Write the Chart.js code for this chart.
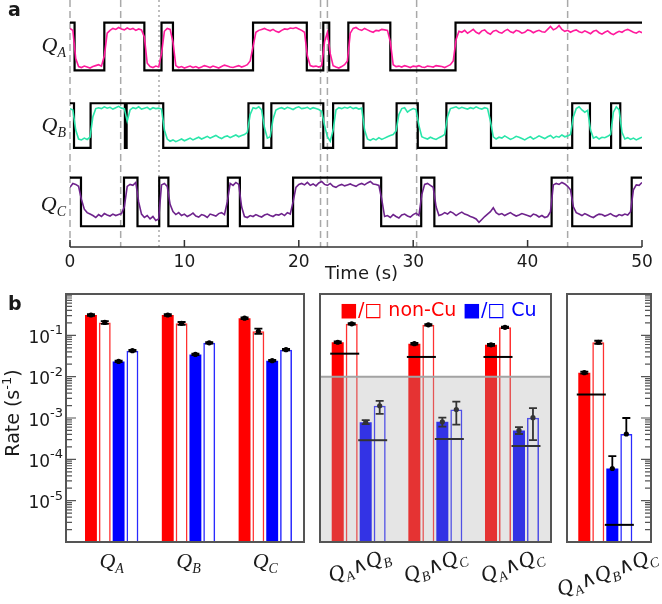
<!DOCTYPE html>
<html>
<head>
<meta charset="utf-8">
<script src="https://cdn.jsdelivr.net/npm/chart.js@4.4.0/dist/chart.umd.min.js"></script>
<style>
  body { margin: 0; background: #fff; }
  #wrap { position: relative; width: 662px; height: 604px; overflow: hidden;
          font-family: "DejaVu Sans", sans-serif; color: #1a1a1a; }
  canvas { position: absolute; }
  .txt { position: absolute; white-space: nowrap; }
  .q { font-family: "Liberation Serif", "DejaVu Serif", serif; font-style: italic;
       font-size: 22px; line-height: 22px; }
  .q sub { font-size: 14px; vertical-align: -5px; line-height: 0; }
  .and { font-family: "DejaVu Serif", serif; font-style: normal; font-size: 21px; }
  .pl { font-weight: bold; font-size: 19px; line-height: 19px; }
  .leg { font-size: 19px; line-height: 19px; }
</style>
</head>
<body>
<div id="wrap">
  <canvas id="traces" width="662" height="290" style="left:0;top:0"></canvas>
  <canvas id="single" width="310" height="260" style="left:0;top:290px"></canvas>
  <canvas id="pairs" width="242" height="260" style="left:315px;top:290px"></canvas>
  <canvas id="triple" width="102" height="260" style="left:560px;top:290px"></canvas>

  <div class="txt pl" style="left:8px;top:0">a</div>
  <div class="txt pl" style="left:8px;top:294px">b</div>
  <div class="txt q" style="right:596px;top:34px">Q<sub>A</sub></div>
  <div class="txt q" style="right:596px;top:114px">Q<sub>B</sub></div>
  <div class="txt q" style="right:596px;top:193px">Q<sub>C</sub></div>
  <div class="txt" style="left:11px;top:413px;font-size:19px;transform:translate(-50%,-50%) rotate(-90deg)">Rate (s<sup style="font-size:13px">-1</sup>)</div>
  <div class="txt leg" style="left:340px;top:300px;color:#ff0000">■/□ non-Cu</div>
  <div class="txt leg" style="left:463px;top:300px;color:#0000ff">■/□ Cu</div>
</div>
<script>
// ---- panel a : telegraph traces ----
var dt = 0.25;
var traceA = [88,84,25,8, 6,9,7,5,8,10,12,9, 30,
  78,84,88,86,90,87,85,89,86,88,84,87,85, 70, 15,8,6,9,7, 35, 82,88,86, 60,
  10,6,8,5,7,9,6,8,5,7,10,8,6,9,7,5,8,11,9,7,6,8,10,7,9,12,20, 50,
  80,84,86,88,85,83,86,82,80,84,87,86,89,88,90,87,84,80, 30, 10,8,9,7,10,
  60,80,35, 10,7,5,8,12, 20,78,88, 90,86,84,88,85,82,80,84,83,86,85,84, 60, 12,
  8,9,7,10,8,6,9,8,10,7,6,9,8,7,10,9,8,6,9,12,20, 65, 82,
  80,84,78,82,86,80,77,83,85,79,76,82,84,80,78,83,86,81,79,84,82,78,80,85,83,79,82,84,81,80,
  86,92,85,88,94,86,82,84,80,83,85,81,79,83,80,77,82,84,79,76,
  80,83,78,75,79,82,80,84,86,83,80,78,82,79];
var traceB = [88,85, 40,20,18,22,19,24, 70,88,90,88,92,89,91,87,90,93,89,88, 60,
  85,90,88,92,87,89,91,86,90,88,89, 87, 40,20,
  15,18,14,17,20,16,19,22,18,21,24,20,23,26,22,25,28,24,21,25,27,23,26,29,25,28,30, 35,
  75,90,88,92,85, 45,22,25, 65,85,
  88,90,87,91,89,86,90,92,88,89,91,87,90,88,86,82, 50,25,15, 40,85,
  90,88,91,89,92,88,90,87, 89, 40, 20,17,21,18,23,19,22,25,28,30, 38,
  75,88,90,80,85,88,86, 50, 25,22,20,24,21,19,23,26, 30, 70,88,
  90,92,88,91,89,87,90,88,92,89,87,90,88, 60,25,
  20,24,22,27,23,19,22,26,24,21,18,22,25,20,23,27,24,21,25,28,22,26,24,29,25,27, 30,
  70,88,92,85,80,84, 40, 22,25,20,24,23,26, 30, 80,92,85, 35, 20,23,19,22,18,21,24];
var traceC = [80,88,86,82, 55,35, 28,25,22,18,24,20,26,23,21,25,22,24,26,
  40,82,86,84,90, 50,25, 18,22,15,20,12, 15, 85,88,82, 45,30,
  24,28,22,25,20,23,27,21,19,24,22,18,25,23,21,26,28,24, 50, 88,84,90,86, 40,20,
  18,22,20,24,21,19,23,25,22,20,24,23,26,22,28, 25, 50,80,
  86,88,85,90,84,87,83,89,92,86,84,88,82,80,84,86,83,85,87,84,82,86,88,85,89,92,87,86, 84,
  55,20, 22,18,24,20,17,23,25,21,19,24,27,22, 65,86,88,84,80, 40,22,
  24,28,25,30,27,22,26,29,25,23,20,18,15,8,14,20,25,30,38,28,
  24,26,22,25,28,24,21,23,26,24,22,20,25,23,19,22,18,20,
  30,85,88,86,90,87,82,75, 40,28, 25,22,26,23,20,18,22,25,24,21,23,26,22,20,24,22,25,23, 30,
  75,85,84,90];
// switch times (s); every trace starts in the upper state
var switchA = [0.4, 3.0, 6.5, 8.0, 9.0, 16.0, 20.7, 22.14, 22.66, 24.33, 28.0, 33.7];
var switchB = [0.35, 1.8, 4.8, 4.95, 8.15, 15.6, 16.9, 17.6, 22.14, 23.0, 25.65, 28.55,
  30.4, 32.9, 36.8, 43.9, 45.45, 47.3, 48.1];
var switchC = [0.96, 4.72, 5.9, 7.8, 8.6, 13.8, 14.85, 19.5, 27.2, 30.7, 31.85, 42.1, 43.9, 49.1];
var markTimes = [0, 4.43, 21.9, 22.5, 30.3, 43.5];
var dotTimes = [7.78];
var timeTicks = [0, 10, 20, 30, 40, 50];
var tEnd = 50;

// ---- panel b : rates (s^-1) ----
var singleLabels = ['A', 'B', 'C'];
var sNonCuFill = [0.31, 0.31, 0.26];
var sNonCuOpen = [0.205, 0.195, 0.125];
var sCuFill = [0.0234, 0.0346, 0.0244];
var sCuOpen = [0.0426, 0.066, 0.045];
var sNonCuFillErr = [[0.295, 0.325], [0.295, 0.325], [0.248, 0.272]];
var sNonCuOpenErr = [[0.19, 0.22], [0.18, 0.21], [0.108, 0.145]];
var sCuFillErr = [[0.0225, 0.0243], [0.0334, 0.0358], [0.0235, 0.0253]];
var sCuOpenErr = [[0.041, 0.0443], [0.0635, 0.0685], [0.0435, 0.0467]];

var pairLabels = [['A', 'B'], ['B', 'C'], ['A', 'C']];
var pNonCuFill = [0.068, 0.063, 0.059];
var pNonCuOpen = [0.19, 0.18, 0.156];
var pCuFill = [7.9e-4, 8.1e-4, 5.0e-4];
var pCuOpen = [1.97e-3, 1.6e-3, 1.02e-3];
var pNonCuFillErr = [[0.065, 0.071], [0.060, 0.066], [0.056, 0.062]];
var pNonCuOpenErr = [[0.183, 0.197], [0.173, 0.187], [0.150, 0.162]];
var pCuFillErr = [[7.1e-4, 8.9e-4], [6.2e-4, 1.02e-3], [4.1e-4, 6.0e-4]];
var pCuOpenErr = [[1.26e-3, 2.6e-3], [6.9e-4, 2.5e-3], [2.9e-4, 1.73e-3]];
var pNonCuExpect = [0.036, 0.030, 0.030];
var pCuExpect = [2.9e-4, 3.1e-4, 2.1e-4];

var tNonCuFill = [0.0125];
var tNonCuOpen = [0.068];
var tCuFill = [6.0e-5];
var tCuOpen = [4.1e-4];
var tNonCuFillErr = [[0.0118, 0.0132]];
var tNonCuOpenErr = [[0.062, 0.074]];
var tCuFillErr = [[6.0e-5, 1.2e-4]];
var tCuOpenErr = [[4.1e-4, 1.0e-3]];
var tNonCuExpect = [3.7e-3];
var tCuExpect = [2.6e-6];

var rateMin = 1e-6, rateMax = 1;
var rateLabelExp = [-1, -2, -3, -4, -5];
var shadeLimit = 1e-2;

Chart.defaults.font.family = '"DejaVu Sans", sans-serif';
Chart.defaults.plugins.legend.display = false;
Chart.defaults.plugins.tooltip.enabled = false;

// lane positions in chart units (y axis 0..100)
var lanes = [{ low: 71.5, high: 90.8 }, { low: 40.1, high: 58.2 }, { low: 8.4, high: 28.1 }];

function tracePoints(vals, lane) {
  return vals.map(function (v, i) {
    return { x: i * dt, y: lane.low + v / 100 * (lane.high - lane.low) };
  });
}
function squarePoints(sw, lane) {
  var hi = true;
  var pts = [{ x: 0, y: lane.high }];
  sw.forEach(function (t) {
    hi = !hi;
    pts.push({ x: t, y: hi ? lane.high : lane.low });
  });
  pts.push({ x: tEnd, y: hi ? lane.high : lane.low });
  return pts;
}

var timeDecor = {
  id: 'timeDecor',
  beforeDatasetsDraw: function (chart) {
    var ctx = chart.ctx, a = chart.chartArea, x = chart.scales.x;
    ctx.save();
    ctx.strokeStyle = '#a9a9a9';
    ctx.lineWidth = 1.5;
    markTimes.concat(dotTimes).forEach(function (t) {
      var px = x.getPixelForValue(t);
      ctx.setLineDash(dotTimes.indexOf(t) >= 0 ? [2, 3] : [7, 4]);
      ctx.beginPath();
      ctx.moveTo(px, a.top);
      ctx.lineTo(px, a.bottom);
      ctx.stroke();
    });
    ctx.restore();
  },
  afterDatasetsDraw: function (chart) {
    var ctx = chart.ctx, a = chart.chartArea, x = chart.scales.x;
    ctx.save();
    ctx.strokeStyle = '#333';
    ctx.lineWidth = 1.5;
    ctx.beginPath();
    ctx.moveTo(a.left, a.bottom);
    ctx.lineTo(a.right, a.bottom);
    timeTicks.forEach(function (t) {
      var px = x.getPixelForValue(t);
      ctx.moveTo(px, a.bottom);
      ctx.lineTo(px, a.bottom - 7);
    });
    ctx.stroke();
    ctx.fillStyle = '#1a1a1a';
    ctx.font = '17px "DejaVu Sans"';
    ctx.textAlign = 'center';
    ctx.textBaseline = 'alphabetic';
    timeTicks.forEach(function (t) {
      ctx.fillText(String(t), x.getPixelForValue(t), a.bottom + 20);
    });
    ctx.font = '18px "DejaVu Sans"';
    ctx.fillText('Time (s)', 361.5, a.bottom + 32);
    ctx.restore();
  }
};

new Chart(document.getElementById('traces'), {
  type: 'line',
  data: {
    datasets: [
      { data: tracePoints(traceA, lanes[0]), borderColor: '#ff1a9c', borderWidth: 1.6 },
      { data: tracePoints(traceB, lanes[1]), borderColor: '#2ae6aa', borderWidth: 1.6 },
      { data: tracePoints(traceC, lanes[2]), borderColor: '#6e238c', borderWidth: 1.6 },
      { data: squarePoints(switchA, lanes[0]), borderColor: '#000', borderWidth: 2.2, stepped: true },
      { data: squarePoints(switchB, lanes[1]), borderColor: '#000', borderWidth: 2.2, stepped: true },
      { data: squarePoints(switchC, lanes[2]), borderColor: '#000', borderWidth: 2.2, stepped: true }
    ]
  },
  options: {
    responsive: false, animation: false, devicePixelRatio: 1, events: [],
    layout: { padding: { left: 70, right: 20, top: 0, bottom: 43 } },
    elements: { point: { radius: 0 }, line: { tension: 0 } },
    scales: {
      x: { type: 'linear', min: 0, max: tEnd, display: false },
      y: { type: 'linear', min: 0, max: 100, display: false }
    }
  },
  plugins: [timeDecor]
});

// ---- bar panels ----
var rateDecor = {
  id: 'rateDecor',
  afterDatasetsDraw: function (chart, args, o) {
    var ctx = chart.ctx, a = chart.chartArea, y = chart.scales.y;
    ctx.save();
    // error bars
    ctx.strokeStyle = '#000';
    ctx.fillStyle = '#000';
    ctx.lineWidth = 1.8;
    chart.data.datasets.forEach(function (ds, d) {
      var meta = chart.getDatasetMeta(d);
      meta.data.forEach(function (bar, i) {
        var e = ds.errors[i];
        var lo = y.getPixelForValue(e[0]), hi = y.getPixelForValue(e[1]);
        var v = y.getPixelForValue(ds.data[i].y);
        ctx.beginPath();
        ctx.moveTo(bar.x, lo); ctx.lineTo(bar.x, hi);
        ctx.moveTo(bar.x - 4, hi); ctx.lineTo(bar.x + 4, hi);
        if (e[0] < ds.data[i].y) { ctx.moveTo(bar.x - 4, lo); ctx.lineTo(bar.x + 4, lo); }
        ctx.stroke();
        ctx.beginPath();
        ctx.arc(bar.x, v, 2.6, 0, Math.PI * 2);
        ctx.fill();
      });
    });
    // expected levels across each colour pair
    function expLine(vals, d0, d1) {
      var m0 = chart.getDatasetMeta(d0), m1 = chart.getDatasetMeta(d1);
      vals.forEach(function (v, i) {
        var b0 = m0.data[i], b1 = m1.data[i];
        var py = y.getPixelForValue(v);
        ctx.beginPath();
        ctx.moveTo(b0.x - b0.width / 2 - 1.5, py);
        ctx.lineTo(b1.x + b1.width / 2 + 1.5, py);
        ctx.stroke();
      });
    }
    ctx.lineWidth = 2;
    if (o.expNonCu) expLine(o.expNonCu, 0, 1);
    if (o.expCu) expLine(o.expCu, 2, 3);
    // shaded region
    if (o.shade) {
      var ps = y.getPixelForValue(o.shade);
      ctx.fillStyle = 'rgba(170,170,170,0.3)';
      ctx.fillRect(a.left, ps, a.width, a.bottom - ps);
      ctx.strokeStyle = '#a3a3a3';
      ctx.lineWidth = 2;
      ctx.beginPath();
      ctx.moveTo(a.left, ps); ctx.lineTo(a.right, ps);
      ctx.stroke();
    }
    // log ticks
    if (o.side) {
      ctx.strokeStyle = '#555';
      ctx.lineWidth = 1.2;
      var x0 = o.side === 'left' ? a.left : a.right;
      var dir = o.side === 'left' ? 1 : -1;
      ctx.beginPath();
      for (var e = -6; e <= 0; e++) {
        for (var m = 1; m <= 9; m++) {
          var val = m * Math.pow(10, e);
          if (val < rateMin || val > rateMax) continue;
          var py = y.getPixelForValue(val);
          ctx.moveTo(x0, py);
          ctx.lineTo(x0 + dir * (m === 1 ? 10 : 6), py);
        }
      }
      ctx.stroke();
    }
    if (o.labels) {
      ctx.fillStyle = '#1a1a1a';
      ctx.textAlign = 'left';
      ctx.textBaseline = 'alphabetic';
      rateLabelExp.forEach(function (ex) {
        var py = y.getPixelForValue(Math.pow(10, ex));
        var sup = String(ex);
        ctx.font = '13px "DejaVu Sans"';
        var sw = ctx.measureText(sup).width;
        ctx.font = '17px "DejaVu Sans"';
        var bw = ctx.measureText('10').width;
        var xr = a.left - 3;
        ctx.fillText('10', xr - sw - bw, py + 7.5);
        ctx.font = '13px "DejaVu Sans"';
        ctx.fillText(sup, xr - sw, py - 1);
      });
    }
    // frame
    ctx.strokeStyle = '#555';
    ctx.lineWidth = 2;
    ctx.strokeRect(a.left, a.top, a.width, a.height);
    ctx.restore();
  }
};

function xy(vals) {
  return vals.map(function (v, i) { return { x: i, y: v }; });
}

function rateChart(id, sets, xr, pad, catPct, decor) {
  var idx = sets[0].map(function (v, i) { return i; });
  return new Chart(document.getElementById(id), {
    type: 'bar',
    data: {
      datasets: [
        { data: xy(sets[0]), errors: sets[4], backgroundColor: '#ff0000', borderWidth: 0 },
        { data: xy(sets[1]), errors: sets[5], backgroundColor: 'rgba(255,255,255,0)', borderColor: '#ff3030', borderWidth: 1.5 },
        { data: xy(sets[2]), errors: sets[6], backgroundColor: '#0000ff', borderWidth: 0 },
        { data: xy(sets[3]), errors: sets[7], backgroundColor: 'rgba(255,255,255,0)', borderColor: '#2a2aff', borderWidth: 1.5 }
      ]
    },
    options: {
      responsive: false, animation: false, devicePixelRatio: 1, events: [],
      layout: { padding: pad },
      datasets: { bar: { categoryPercentage: catPct, barPercentage: 0.86, base: rateMin } },
      scales: {
        x: {
          type: 'linear', min: xr[0], max: xr[1], display: false, offset: false,
          afterBuildTicks: function (s) { s.ticks = idx.map(function (i) { return { value: i }; }); }
        },
        y: { type: 'logarithmic', min: rateMin, max: rateMax, display: false }
      },
      plugins: { rateDecor: decor }
    },
    plugins: [rateDecor]
  });
}

var cSingle = rateChart('single',
  [sNonCuFill, sNonCuOpen, sCuFill, sCuOpen, sNonCuFillErr, sNonCuOpenErr, sCuFillErr, sCuOpenErr],
  [-0.595, 2.504], { left: 66, top: 4, right: 6, bottom: 8 }, 0.72,
  { side: 'left', labels: true });
var cPairs = rateChart('pairs',
  [pNonCuFill, pNonCuOpen, pCuFill, pCuOpen, pNonCuFillErr, pNonCuOpenErr, pCuFillErr, pCuOpenErr],
  [-0.505, 2.509], { left: 5, top: 4, right: 6, bottom: 8 }, 0.73,
  { expNonCu: pNonCuExpect, expCu: pCuExpect, shade: shadeLimit });
var cTriple = rateChart('triple',
  [tNonCuFill, tNonCuOpen, tCuFill, tCuOpen, tNonCuFillErr, tNonCuOpenErr, tCuFillErr, tCuOpenErr],
  [-0.499, 0.595], { left: 7, top: 4, right: 11, bottom: 8 }, 0.667,
  { side: 'right', expNonCu: tNonCuExpect, expCu: tCuExpect });

// category labels placed through the x scales
var wrap = document.getElementById('wrap');
function q(s) { return 'Q<sub>' + s + '</sub>'; }
function addLabel(html, x, y, rot) {
  var d = document.createElement('div');
  d.className = 'txt q';
  d.innerHTML = html;
  d.style.left = x + 'px';
  d.style.top = y + 'px';
  d.style.transform = 'translate(-50%,-50%)' + (rot ? ' rotate(' + rot + 'deg)' : '');
  wrap.appendChild(d);
}
var AND = '<span class="and">∧</span>';
singleLabels.forEach(function (s, i) {
  addLabel(q(s), cSingle.scales.x.getPixelForValue(i), 561);
});
pairLabels.forEach(function (p, i) {
  addLabel(q(p[0]) + AND + q(p[1]), 315 + cPairs.scales.x.getPixelForValue(i), 565, -20);
});
addLabel(q('A') + AND + q('B') + AND + q('C'), 560 + cTriple.scales.x.getPixelForValue(0) + 2, 572, -20);
</script>
</body>
</html>
